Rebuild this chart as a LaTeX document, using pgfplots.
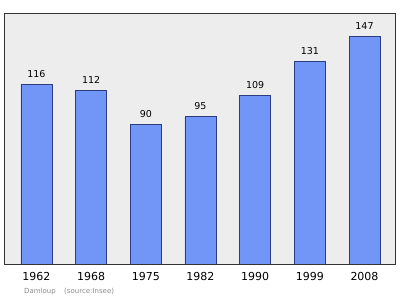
\documentclass[border=0pt]{standalone}
\usepackage{pgfplots}
\pgfplotsset{compat=1.18}
\usepackage{fontspec}
\setmainfont{DejaVu Sans}
\definecolor{barfill}{HTML}{7196F8}
\definecolor{barline}{HTML}{2B3C80}
\definecolor{panel}{HTML}{EDEDED}
\begin{document}
\begin{tikzpicture}
\useasboundingbox (0,0) rectangle (400pt,299pt);
\begin{axis}[
  at={(4pt,35pt)}, anchor=south west,
  scale only axis, width=391pt, height=251pt,
  xmin=-0.594, xmax=6.558, ymin=0, ymax=162,
  axis background/.style={fill=panel},
  axis line style={draw=black!80, line width=0.8pt},
  ytick=\empty,
  xtick={0,...,6},
  xticklabels={1962,1968,1975,1982,1990,1999,2008},
  major tick length=0pt,
  xticklabel style={font=\fontsize{11}{13}\selectfont, yshift=-5pt},
  ybar, bar width=0.567,
  nodes near coords,
  nodes near coords style={font=\fontsize{9.5}{11}\selectfont, yshift=3pt},
  /pgf/number format/assume math mode=true,
]
\addplot[fill=barfill, draw=barline, line width=0.7pt] coordinates {
  (0,116) (1,112) (2,90) (3,95) (4,109) (5,131) (6,147)
};
\end{axis}
\node[anchor=west, text=black!45, font=\fontsize{7}{8}\selectfont, inner sep=0] at (24pt,7pt) {Damloup\hspace{1.2em}(source:Insee)};
\end{tikzpicture}
\end{document}
